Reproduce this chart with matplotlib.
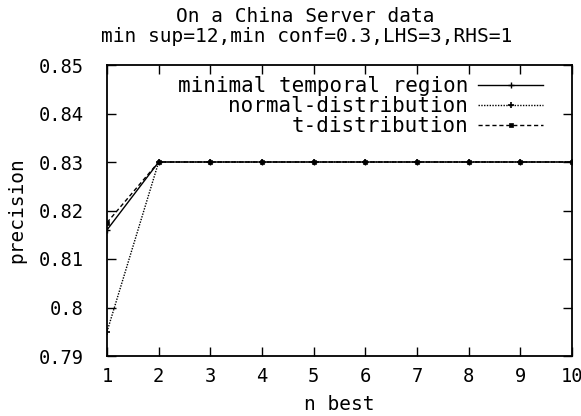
import numpy as np
import matplotlib
matplotlib.use("Agg")
import matplotlib.pyplot as plt

# precision against the number of best candidates kept
n_best = [1, 2, 3, 4, 5, 6, 7, 8, 9, 10]
minimal_region = [0.816, 0.83, 0.83, 0.83, 0.83, 0.83, 0.83, 0.83, 0.83, 0.83]
normal_dist = [0.795, 0.83, 0.83, 0.83, 0.83, 0.83, 0.83, 0.83, 0.83, 0.83]
t_dist = [0.8175, 0.83, 0.83, 0.83, 0.83, 0.83, 0.83, 0.83, 0.83, 0.83]

y_ticks = [0.79, 0.8, 0.81, 0.82, 0.83, 0.84, 0.85]
y_tick_labels = ["0.79", "0.8", "0.81", "0.82", "0.83", "0.84", "0.85"]

plt.rcParams['font.family'] = 'DejaVu Sans Mono'
fs = 14

fig = plt.figure(figsize=(5.81, 4.16), dpi=100)
ax = fig.add_axes([107/581, 60/416, 465/581, 291/416])

ax.plot(n_best, minimal_region, color='black', lw=1.0, ls='-',
        marker='+', ms=5, mew=1.0, label='minimal temporal region')
ax.plot(n_best, normal_dist, color='black', lw=1.0, ls=(0, (1, 1)),
        marker='+', ms=4, mew=1.2, label='normal-distribution')
ax.plot(n_best, t_dist, color='black', lw=1.0, ls=(0, (3, 2)),
        marker='s', ms=3.5, mew=0.5, label='t-distribution')

ax.set_xlim(1, 10)
ax.set_ylim(0.79, 0.85)
ax.set_xticks(n_best)
ax.set_yticks(y_ticks)
ax.set_yticklabels(y_tick_labels)
ax.tick_params(direction='in', length=6.5, width=1.0, top=True, right=True,
               labelsize=13.5)
ax.tick_params(axis='y', pad=17)
ax.tick_params(axis='x', pad=8)
for s in ax.spines.values():
    s.set_linewidth(1.3)

ax.set_xlabel('n best', fontsize=fs, va='center')
ax.set_ylabel('precision', fontsize=fs, va='center')
ax.xaxis.set_label_coords(0.5, -0.165)
ax.yaxis.set_label_coords(-0.1935, 0.5)

leg = ax.legend(loc='upper right', bbox_to_anchor=(0.9376, 0.962),
                markerfirst=False, frameon=False, fontsize=15,
                handlelength=3.1, handletextpad=0.5, labelspacing=0.0,
                borderaxespad=0, borderpad=0)

fig.text(305/581, 1 - 17/416, 'On a China Server data', ha='center', va='center', fontsize=fs)
fig.text(307/581, 1 - 37/416, 'min sup=12,min conf=0.3,LHS=3,RHS=1', ha='center', va='center', fontsize=fs)

fig.savefig('out.png', dpi=100)
